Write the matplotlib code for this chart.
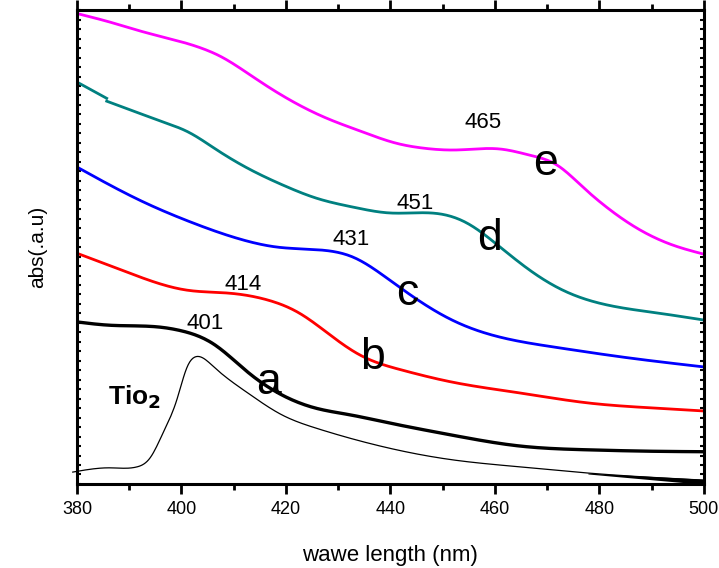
import numpy as np
import matplotlib
matplotlib.use("Agg")
import matplotlib.pyplot as plt
from matplotlib.ticker import MultipleLocator, NullFormatter

plt.rcParams['font.family'] = ['Liberation Sans', 'DejaVu Sans']

# wavelength (nm) / absorbance (a.u.)
wl_e = [380.4, 386.3, 392.8, 399.1, 404.3, 407.4, 412.0, 415.8, 421.5, 427.8, 434.2, 441.2, 446.2, 452.7, 461.0, 466.7, 471.9, 476.8, 481.4, 487.8, 494.1, 500]
ab_e = [0.992, 0.975, 0.954, 0.936, 0.918, 0.903, 0.872, 0.844, 0.806, 0.772, 0.745, 0.719, 0.709, 0.705, 0.707, 0.694, 0.673, 0.627, 0.584, 0.536, 0.504, 0.485]

# teal curve has a small step near 386 nm, so it is kept in two pieces
wl_d1 = [380.4, 385.7]
ab_d1 = [0.846, 0.814]
wl_d = [385.7, 392.8, 397.8, 401.1, 406.8, 413.1, 419.6, 425.9, 433.0, 439.9, 449.5, 454.6, 461.0, 466.7, 473.0, 481.4, 491.0, 500]
ab_d = [0.808, 0.779, 0.759, 0.744, 0.705, 0.664, 0.630, 0.603, 0.584, 0.572, 0.570, 0.551, 0.500, 0.451, 0.409, 0.378, 0.361, 0.346]

wl_c = [380, 392, 402.2, 411.8, 418.3, 426.5, 432.8, 439.9, 445.3, 451.8, 458.3, 471.3, 484.3, 500]
ab_c = [0.669, 0.599, 0.551, 0.515, 0.500, 0.494, 0.479, 0.430, 0.388, 0.346, 0.318, 0.289, 0.268, 0.247]

wl_b = [380, 389.6, 401.1, 408.8, 416.6, 422.5, 429.0, 434.2, 442.0, 451.8, 464.8, 477.8, 490.8, 500]
ab_b = [0.487, 0.447, 0.409, 0.403, 0.388, 0.361, 0.310, 0.272, 0.241, 0.215, 0.192, 0.171, 0.160, 0.154]

wl_a = [380, 386.3, 395.9, 399.7, 406.2, 412.7, 419.2, 425.7, 432.2, 438.8, 451.8, 464.8, 477.8, 490.0, 500]
ab_a = [0.342, 0.335, 0.331, 0.324, 0.295, 0.236, 0.188, 0.160, 0.146, 0.131, 0.103, 0.080, 0.072, 0.069, 0.068]

wl_tio2 = [379.2, 386.3, 391.5, 394.0, 396.5, 399.1, 401.1, 402.6, 404.1, 406.2, 412.7, 419.2, 425.7, 438.8, 451.8, 464.8, 477.8, 500]
ab_tio2 = [0.025, 0.034, 0.036, 0.055, 0.108, 0.177, 0.247, 0.268, 0.266, 0.247, 0.192, 0.146, 0.118, 0.078, 0.051, 0.036, 0.023, 0.008]
# the thin trace thickens into a small wedge at the end
wl_wedge = [477.8, 500]
ab_wedge_top = [0.023, 0.010]
ab_wedge_bot = [0.021, -0.001]

peak_labels = [("465", 457.7, 0.762), ("451", 444.7, 0.592), ("431", 432.4, 0.515), ("414", 411.8, 0.420), ("401", 404.5, 0.338)]
curve_letters = [("e", 469.6, 0.677), ("d", 459.0, 0.519), ("c", 443.2, 0.401), ("b", 436.6, 0.266), ("a", 416.6, 0.215)]


def spline(x, y, n=400):
    # natural cubic spline through the read points
    x = np.asarray(x, float)
    y = np.asarray(y, float)
    k = len(x)
    h = np.diff(x)
    A = np.zeros((k, k))
    r = np.zeros(k)
    A[0, 0] = A[-1, -1] = 1
    for i in range(1, k - 1):
        A[i, i - 1] = h[i - 1]
        A[i, i] = 2 * (h[i - 1] + h[i])
        A[i, i + 1] = h[i]
        r[i] = 6 * ((y[i + 1] - y[i]) / h[i] - (y[i] - y[i - 1]) / h[i - 1])
    M = np.linalg.solve(A, r)
    xs = np.linspace(x[0], x[-1], n)
    j = np.clip(np.searchsorted(x, xs) - 1, 0, k - 2)
    a = x[j + 1] - xs
    b = xs - x[j]
    ys = (M[j] * a**3 + M[j + 1] * b**3) / (6 * h[j]) \
        + (y[j] / h[j] - M[j] * h[j] / 6) * a + (y[j + 1] / h[j] - M[j + 1] * h[j] / 6) * b
    return xs, ys


fig = plt.figure(figsize=(7.19, 5.68), dpi=100)
ax = fig.add_axes([0.107, 0.148, 0.872, 0.834])

ax.plot(*spline(wl_e, ab_e), color='#ff00ff', lw=2.0)
ax.plot(wl_d1, ab_d1, color='#008080', lw=2.0)
ax.plot(*spline(wl_d, ab_d), color='#008080', lw=2.0)
ax.plot(*spline(wl_c, ab_c), color='#0000ff', lw=2.0)
ax.plot(*spline(wl_b, ab_b), color='#ff0000', lw=2.0)
ax.plot(*spline(wl_a, ab_a), color='black', lw=2.4)
ax.plot(*spline(wl_tio2, ab_tio2), color='black', lw=0.9, clip_on=False)
ax.fill_between(wl_wedge, ab_wedge_bot, ab_wedge_top, color='black', lw=0)

for txt, x, y in peak_labels:
    ax.text(x, y, txt, fontsize=16, ha='center', va='center')
for txt, x, y in curve_letters:
    ax.text(x, y, txt, fontsize=32, ha='center', va='center')
ax.text(391.0, 0.183, r'Tio$_\mathbf{2}$', fontsize=19, fontweight='bold', ha='center', va='center')

ax.set_xlim(380, 500)
ax.set_ylim(0, 1)
ax.xaxis.set_major_locator(MultipleLocator(20))
ax.xaxis.set_minor_locator(MultipleLocator(10))
ax.yaxis.set_major_locator(MultipleLocator(0.1))
ax.yaxis.set_minor_locator(MultipleLocator(0.02))
ax.yaxis.set_major_formatter(NullFormatter())
ax.tick_params(axis='x', which='major', direction='out', length=7, width=2, labelsize=13, pad=5)
ax.tick_params(axis='x', which='minor', direction='out', length=4, width=2)
ax.tick_params(axis='x', which='both', top=True, labeltop=False)
ax.tick_params(axis='y', which='both', direction='in', length=3, width=1.5, left=True, right=True)
for sp in ax.spines.values():
    sp.set_linewidth(2.2)

ax.set_xlabel('wawe length (nm)', fontsize=16, labelpad=20)
ax.set_ylabel('abs(.a.u)', fontsize=15, labelpad=18)

fig.savefig('out.png', dpi=100)
